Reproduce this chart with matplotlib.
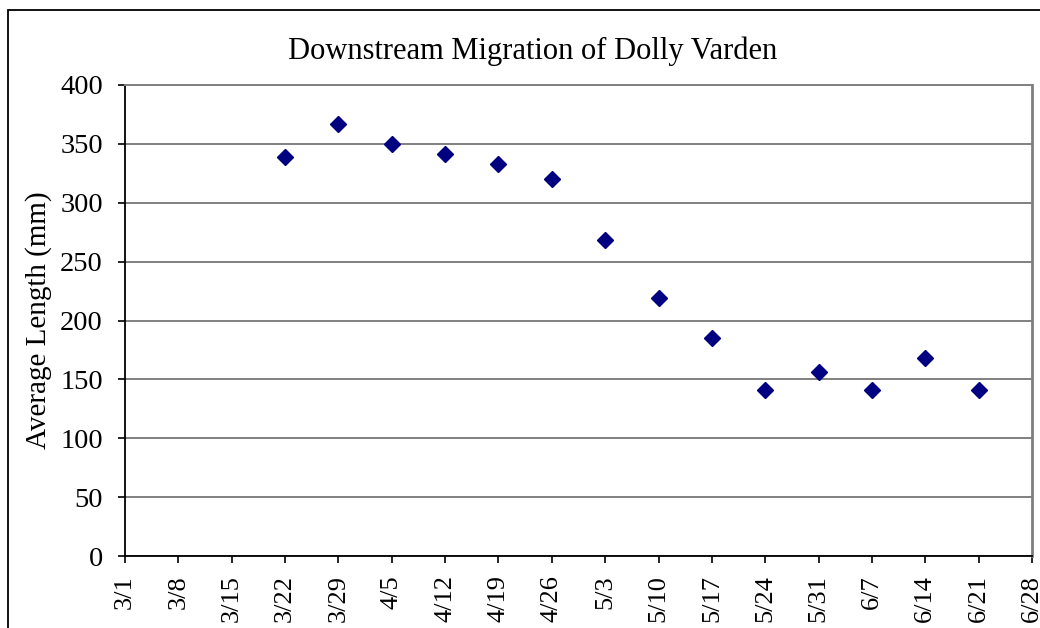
import numpy as np
import pandas as pd
import matplotlib
matplotlib.use("Agg")
import matplotlib.pyplot as plt
from matplotlib.patches import Rectangle

# sample dates (weekly) and average length in mm
dates = ["3/22", "3/29", "4/5", "4/12", "4/19", "4/26", "5/3", "5/10",
         "5/17", "5/24", "5/31", "6/7", "6/14", "6/21"]
avg_length = [339, 367, 350, 341, 333, 320, 268, 219, 185, 141, 156, 141, 168, 141]

tick_dates = ["3/1", "3/8", "3/15", "3/22", "3/29", "4/5", "4/12", "4/19", "4/26",
              "5/3", "5/10", "5/17", "5/24", "5/31", "6/7", "6/14", "6/21", "6/28"]
y_ticks = [0, 50, 100, 150, 200, 250, 300, 350, 400]

YEAR = 2005


def to_date(s):
    return pd.to_datetime(f"{YEAR}/{s}", format="%Y/%m/%d")


x = [to_date(d) for d in dates]
xt = [to_date(d) for d in tick_dates]

plt.rcParams["font.family"] = ["Liberation Serif", "DejaVu Serif"]

fig = plt.figure(figsize=(10.4, 6.28), dpi=100)
# outer chart frame, runs off the right/bottom edge like the crop
fig.patches.append(Rectangle((8 / 1040, -0.2), 1.2, (628 - 10) / 628 + 0.2,
                             transform=fig.transFigure, fill=False,
                             edgecolor="black", linewidth=1.3, zorder=0))

ax = fig.add_axes([125 / 1040, (628 - 556) / 628, 907 / 1040, 471 / 628])
ax.plot(x, avg_length, linestyle="none", marker="D", markersize=8.6,
        color="#000080", zorder=3, clip_on=False)

ax.set_xlim(xt[0], xt[-1])
ax.set_ylim(0, 400)
ax.set_xticks(xt)
ax.set_xticklabels(tick_dates, rotation=90, va="top", ha="center")
ax.set_yticks(y_ticks)
ax.grid(axis="y", color="#808080", linewidth=1.4)
ax.set_axisbelow(True)

for side in ("left", "bottom"):
    ax.spines[side].set_color("black")
    ax.spines[side].set_linewidth(1.3)
ax.spines["top"].set_color("#808080")
ax.spines["top"].set_linewidth(1.4)
ax.spines["right"].set_color("#808080")
ax.spines["right"].set_linewidth(2.0)

ax.tick_params(axis="both", direction="out", length=5, width=1.2, color="black")
ax.tick_params(axis="y", pad=11, labelsize=20.5)
ax.tick_params(axis="x", pad=9, labelsize=19)

ax.set_ylabel("Average Length (mm)", fontsize=21)
ax.yaxis.set_label_coords(-0.081, 0.5)

fig.text(533 / 1040, (628 - 59) / 628, "Downstream Migration of Dolly Varden",
         ha="center", va="baseline", fontsize=22)

fig.savefig("out.png", dpi=100, facecolor="white")
